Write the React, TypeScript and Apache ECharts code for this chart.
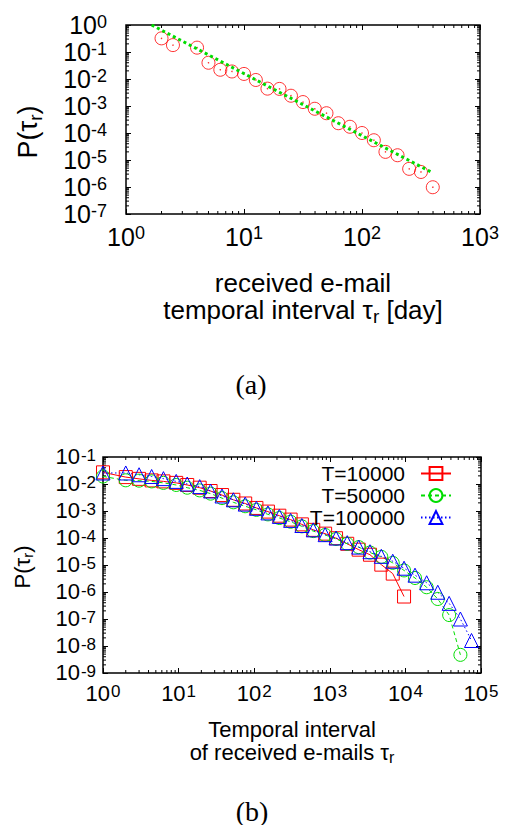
import React, { useEffect, useRef } from 'react';
import * as echarts from 'echarts';

const FONT = '"Liberation Sans", Arial, Helvetica, sans-serif';
const SERIF = '"Liberation Serif", "Times New Roman", serif';
const RED = '#ff0000';
const GREEN = '#00dd00';
const BLUE = '#0000ff';

// ---------- panel (a) ----------
const aTau = [2, 2.5, 4, 5, 6.3, 7.9, 10, 12.6, 15.8, 20, 25, 31.6, 39.8, 50, 63, 79, 100, 126, 158, 200, 251, 316, 398];
const aP = [0.32, 0.18, 0.145, 0.04, 0.022, 0.019, 0.0154, 0.0092, 0.0044, 0.0043, 0.0024, 0.0014, 7.9e-4, 5.4e-4, 2.3e-4, 1.7e-4, 1.0e-4, 5.4e-5, 2.0e-5, 1.5e-5, 4.7e-6, 3.6e-6, 9.8e-7];
const aFitTau = [1.65, 389];
const aFitP = [1.0, 3.5e-6];
const aXRange = [1, 1000];
const aYRange = [1e-7, 1];
const aYTicks = [1, 1e-1, 1e-2, 1e-3, 1e-4, 1e-5, 1e-6, 1e-7];

// ---------- panel (b) ----------
const bTau = [1, 2, 3, 4.4, 6.3, 9.3, 13, 19, 26.5, 37.5, 53, 76, 107, 152, 215, 303, 427, 604, 867, 1210, 1700, 2410, 3400, 4800, 6800, 9600, 13400, 19100, 26800, 37900, 53400, 74900];
const bP10000 = [0.027, 0.018, 0.0155, 0.0136, 0.0125, 0.011, 0.0092, 0.0073, 0.0055, 0.0039, 0.0026, 0.0019, 0.0013, 9.5e-4, 6.7e-4, 4.8e-4, 3.2e-4, 2.0e-4, 1.45e-4, 9.8e-5, 6.1e-5, 3.7e-5, 2.4e-5, 1.03e-5, 4.8e-6, 6.8e-7];
const bP50000 = [0.019, 0.0137, 0.0133, 0.0125, 0.011, 0.0092, 0.0073, 0.0058, 0.0044, 0.003, 0.0021, 0.0015, 0.0011, 7.5e-4, 5.5e-4, 4.0e-4, 2.7e-4, 1.8e-4, 1.3e-4, 9.2e-5, 6.1e-5, 4.6e-5, 2.9e-5, 2.0e-5, 1.2e-5, 6.3e-6, 3.3e-6, 1.5e-6, 5.5e-7, 1.4e-7, 4.7e-9];
const bP100000 = [0.0256, 0.0256, 0.022, 0.019, 0.0158, 0.0125, 0.01, 0.008, 0.0055, 0.0036, 0.0026, 0.0018, 0.00126, 8.5e-4, 6.3e-4, 4.5e-4, 2.9e-4, 2.0e-4, 1.33e-4, 1.0e-4, 6.7e-5, 4.6e-5, 3.1e-5, 2.1e-5, 1.38e-5, 7.6e-6, 4.2e-6, 2.2e-6, 9.8e-7, 3.8e-7, 1.0e-7, 1.6e-8];
const bNames = ['T=10000', 'T=50000', 'T=100000'];
const bXRange = [1, 1e5];
const bYRange = [1e-9, 1e-1];
const bYTicks = [1e-1, 1e-2, 1e-3, 1e-4, 1e-5, 1e-6, 1e-7, 1e-8, 1e-9];

const MAJOR_LEN = 5;
const MINOR_LEN = 3;

// minor tick positions (2..9 within each decade)
function minorTicks(lo: number, hi: number): number[] {
  const out: number[] = [];
  for (let k = lo; k < hi; k++) for (let m = 2; m <= 9; m++) out.push(m * Math.pow(10, k));
  return out;
}

const expLabel = (v: number) => `{b|10}{s|${Math.round(Math.log10(v))}}`;

const richA = {
  b: { fontSize: 25, fontFamily: FONT, lineHeight: 25, verticalAlign: 'bottom', color: '#000', fill: '#000' },
  s: { fontSize: 18, fontFamily: FONT, lineHeight: 18, verticalAlign: 'top', padding: [0, 0, 14, 0], color: '#000', fill: '#000' },
};
const richB = {
  b: { fontSize: 22, fontFamily: FONT, lineHeight: 21, verticalAlign: 'bottom', color: '#000', fill: '#000' },
  s: { fontSize: 17, fontFamily: FONT, lineHeight: 15, verticalAlign: 'top', padding: [0, 0, 12, 1], color: '#000', fill: '#000' },
};

function logAxis(gridIndex: number, position: string, range: number[], split: number) {
  return {
    type: 'log',
    logBase: 10,
    gridIndex,
    position,
    min: range[0],
    max: range[1],
    splitNumber: split,
    axisLine: { show: false },
    splitLine: { show: false },
    minorTick: { show: false },
    minorSplitLine: { show: false },
    axisTick: { show: true, inside: true, length: MAJOR_LEN, lineStyle: { color: '#000', width: 1 } },
    axisLabel: { show: false },
  };
}

function withLabels(ax: any, margin: number, rich: any) {
  return {
    ...ax,
    axisLabel: { show: true, margin, formatter: expLabel, rich, color: '#000', showMinLabel: true, showMaxLabel: true, hideOverlap: false },
  };
}

function minorTickSeries(xIdx: number, yIdx: number, dir: 'x' | 'y', values: number[], other: number) {
  return {
    type: 'custom',
    name: 'minor-' + dir + xIdx,
    xAxisIndex: xIdx,
    yAxisIndex: yIdx,
    silent: true,
    clip: false,
    z: 1,
    data: values.map((v) => (dir === 'x' ? [v, other] : [other, v])),
    renderItem: (params: any, api: any) => {
      const cs = params.coordSys;
      const p = api.coord([api.value(0), api.value(1)]);
      const st = { stroke: '#000', lineWidth: 1 };
      if (dir === 'x') {
        const b = cs.y + cs.height;
        return {
          type: 'group',
          children: [
            { type: 'line', shape: { x1: p[0], y1: b, x2: p[0], y2: b - MINOR_LEN }, style: st },
            { type: 'line', shape: { x1: p[0], y1: cs.y, x2: p[0], y2: cs.y + MINOR_LEN }, style: st },
          ],
        };
      }
      const r = cs.x + cs.width;
      return {
        type: 'group',
        children: [
          { type: 'line', shape: { x1: cs.x, y1: p[1], x2: cs.x + MINOR_LEN, y2: p[1] }, style: st },
          { type: 'line', shape: { x1: r, y1: p[1], x2: r - MINOR_LEN, y2: p[1] }, style: st },
        ],
      };
    },
  };
}

// y tick labels, placed at the axis' own coordinates
function yLabelSeries(xIdx: number, yIdx: number, values: number[], other: number, gap: number, rich: any) {
  return {
    type: 'custom',
    name: 'ylabels' + yIdx,
    xAxisIndex: xIdx,
    yAxisIndex: yIdx,
    silent: true,
    clip: false,
    z: 5,
    data: values.map((v) => [other, v]),
    renderItem: (params: any, api: any) => {
      const cs = params.coordSys;
      const p = api.coord([api.value(0), api.value(1)]);
      return {
        type: 'text',
        x: cs.x - gap,
        y: p[1],
        style: { text: expLabel(api.value(1)), align: 'right', verticalAlign: 'middle', rich, fill: '#000' },
      };
    },
  };
}

const App: React.FC = () => {
  const ref = useRef<HTMLDivElement>(null);
  useEffect(() => {
    if (!ref.current) return;
    const chart = echarts.init(ref.current, undefined, { renderer: 'svg' });

    const titleRich = (big: number, small: number, lh: number, drop: number) => ({
      t: { fontSize: big, fontFamily: FONT, lineHeight: lh, verticalAlign: 'top', fill: '#000' },
      u: { fontSize: small, fontFamily: FONT, lineHeight: 8, verticalAlign: 'top', padding: [drop, 0, 0, 0], fill: '#000' },
    });

    const legendFor = (name: string, top: number) => ({
      data: [name],
      top,
      right: 55,
      orient: 'horizontal',
      align: 'right',
      padding: 0,
      itemWidth: 30,
      itemHeight: 16,
      selectedMode: false,
      textStyle: { fontSize: 21, fontFamily: FONT, color: '#000', lineHeight: 18, padding: [0, 11, 0, 0] },
    });

    const hollow = (c: string) => ({ color: 'rgba(0,0,0,0)', borderColor: c, borderWidth: 1 });

    chart.setOption({
      animation: false,
      backgroundColor: '#fff',
      grid: [
        { left: 126, top: 25, width: 354, height: 189, show: true, borderColor: '#000', borderWidth: 1.5, backgroundColor: 'transparent' },
        { left: 103, top: 457, width: 378, height: 216, show: true, borderColor: '#000', borderWidth: 1.5, backgroundColor: 'transparent' },
      ],
      xAxis: [
        withLabels(logAxis(0, 'bottom', aXRange, 3), 10, richA),
        logAxis(0, 'top', aXRange, 3),
        withLabels(logAxis(1, 'bottom', bXRange, 5), 10, richB),
        logAxis(1, 'top', bXRange, 5),
      ],
      yAxis: [
        logAxis(0, 'left', aYRange, 7),
        logAxis(0, 'right', aYRange, 7),
        logAxis(1, 'left', bYRange, 8),
        logAxis(1, 'right', bYRange, 8),
      ],
      legend: [legendFor(bNames[0], 463), legendFor(bNames[1], 485), legendFor(bNames[2], 507)],
      series: [
        minorTickSeries(0, 0, 'x', minorTicks(0, 3), aYRange[0]),
        minorTickSeries(0, 0, 'y', minorTicks(-7, 0), aXRange[0]),
        minorTickSeries(2, 2, 'x', minorTicks(0, 5), bYRange[0]),
        minorTickSeries(2, 2, 'y', minorTicks(-9, -1), bXRange[0]),
        yLabelSeries(0, 0, aYTicks, aXRange[0], 19, richA),
        yLabelSeries(2, 2, bYTicks, bXRange[0], 7, richB),
        {
          name: 'fit',
          type: 'line',
          xAxisIndex: 0,
          yAxisIndex: 0,
          data: aFitTau.map((x, i) => [x, aFitP[i]]),
          showSymbol: false,
          symbol: 'none',
          lineStyle: { color: GREEN, width: 3, type: [3, 3] },
          z: 3,
        },
        {
          name: 'received',
          type: 'scatter',
          xAxisIndex: 0,
          yAxisIndex: 0,
          data: aTau.map((x, i) => [x, aP[i]]),
          symbol: 'circle',
          symbolSize: 13,
          itemStyle: hollow(RED),
          z: 2,
        },
        {
          name: 'receivedDot',
          type: 'scatter',
          xAxisIndex: 0,
          yAxisIndex: 0,
          data: aTau.map((x, i) => [x, aP[i]]),
          symbol: 'circle',
          symbolSize: 1.5,
          itemStyle: { color: RED },
          z: 2,
        },
        {
          name: bNames[0],
          type: 'line',
          xAxisIndex: 2,
          yAxisIndex: 2,
          data: bP10000.map((y, i) => [bTau[i], y]),
          symbol: 'rect',
          symbolSize: 13,
          showAllSymbol: true,
          itemStyle: hollow(RED),
          lineStyle: { color: RED, width: 1, type: 'solid' },
        },
        {
          name: bNames[1],
          type: 'line',
          xAxisIndex: 2,
          yAxisIndex: 2,
          data: bP50000.map((y, i) => [bTau[i], y]),
          symbol: 'circle',
          symbolSize: 13,
          showAllSymbol: true,
          itemStyle: hollow(GREEN),
          lineStyle: { color: GREEN, width: 1, type: [4, 3] },
        },
        {
          name: bNames[2],
          type: 'line',
          xAxisIndex: 2,
          yAxisIndex: 2,
          data: bP100000.map((y, i) => [bTau[i], y]),
          symbol: 'triangle',
          symbolSize: 14,
          showAllSymbol: true,
          itemStyle: hollow(BLUE),
          lineStyle: { color: BLUE, width: 1, type: [1.5, 2.5] },
        },
      ],
      graphic: [
        {
          type: 'text', x: 28, y: 132, rotation: Math.PI / 2,
          style: { text: '{t|P(τ}{u|r}{t|)}', align: 'center', verticalAlign: 'middle', rich: titleRich(27, 19, 27, 11) },
        },
        {
          type: 'text', x: 303, y: 297,
          style: {
            text: '{t|received e-mail}\n{t|temporal interval τ}{u|r}{t| [day]}',
            align: 'center', verticalAlign: 'middle', rich: titleRich(26, 19, 27, 10),
          },
        },
        {
          type: 'text', x: 251, y: 384,
          style: { text: '(a)', align: 'center', verticalAlign: 'middle', fontSize: 28, fontFamily: SERIF, fill: '#000' },
        },
        {
          type: 'text', x: 22, y: 567, rotation: Math.PI / 2,
          style: { text: '{t|P(τ}{u|r}{t|)}', align: 'center', verticalAlign: 'middle', rich: titleRich(22, 15, 22, 8.5) },
        },
        {
          type: 'text', x: 292, y: 741,
          style: {
            text: '{t|Temporal interval}\n{t|of received e-mails τ}{u|r}',
            align: 'center', verticalAlign: 'middle', rich: titleRich(22, 16, 23, 8),
          },
        },
        {
          type: 'text', x: 252, y: 811,
          style: { text: '(b)', align: 'center', verticalAlign: 'middle', fontSize: 28, fontFamily: SERIF, fill: '#000' },
        },
      ],
    });
    return () => chart.dispose();
  }, []);
  return <div ref={ref} style={{ position: 'absolute', left: 0, top: 0, width: 507, height: 825 }} />;
};

export default App;
